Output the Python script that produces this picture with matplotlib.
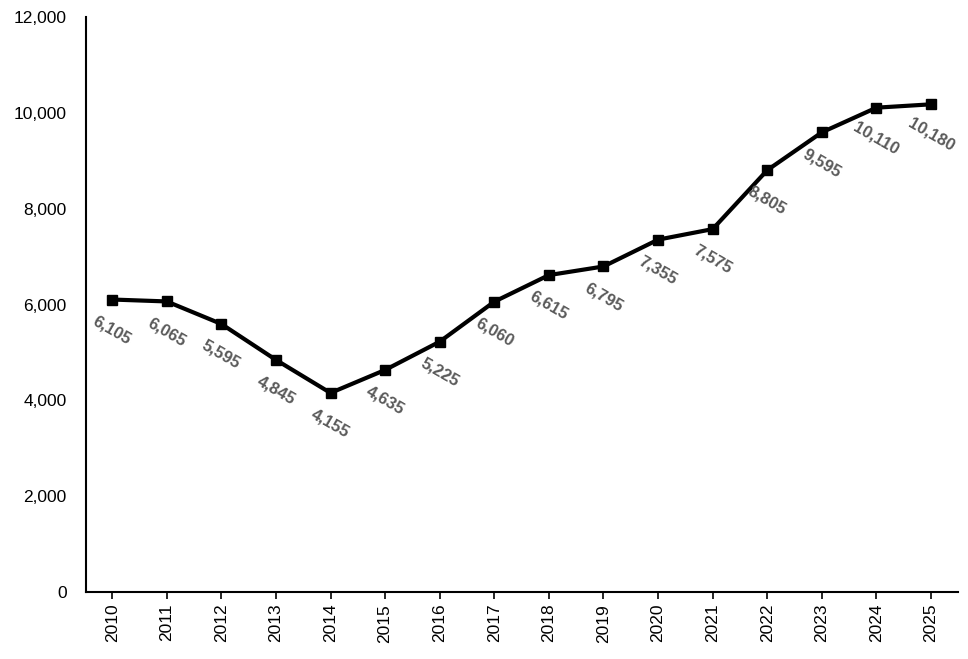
import matplotlib
matplotlib.use("Agg")
import matplotlib.pyplot as plt

years = [str(y) for y in range(2010, 2026)]
values = [6105, 6065, 5595, 4845, 4155, 4635, 5225, 6060, 6615, 6795, 7355, 7575, 8805, 9595, 10110, 10180]

plt.rcParams['font.family'] = ['Liberation Sans', 'DejaVu Sans']
fig = plt.figure(figsize=(9.68, 6.59), dpi=100)
ax = fig.add_axes([0.0888, 0.1017, 0.9012, 0.8723])
x = list(range(len(years)))
ax.plot(x, values, color='black', lw=3, marker='s', markersize=7, zorder=3)
for xi, v in zip(x, values):
    ax.annotate(f"{v:,}", (xi, v), xytext=(0, -22), textcoords='offset points',
                ha='center', va='center', rotation=-30, fontsize=12,
                fontweight='bold', color='#595959')
ax.set_xlim(-0.48, 15.5)
ax.set_ylim(0, 12000)
ax.set_yticks(range(0, 12001, 2000))
ax.set_yticklabels([f"{t:,}" for t in range(0, 12001, 2000)], fontsize=12.5)
ax.set_xticks(x)
ax.set_xticklabels(years, rotation=90, fontsize=12.5)
for s in ['top', 'right']:
    ax.spines[s].set_visible(False)
for s in ['left', 'bottom']:
    ax.spines[s].set_linewidth(1.5)
ax.tick_params(axis='y', length=0, pad=14)
ax.tick_params(axis='x', length=5, width=1.2, direction='out')
fig.savefig("out.png", dpi=100)
